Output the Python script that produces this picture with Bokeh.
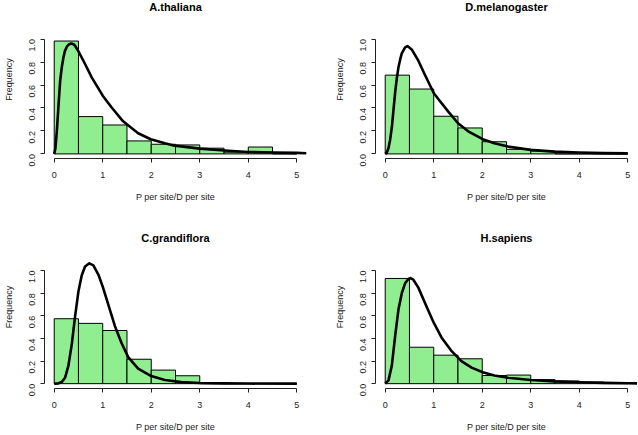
import math
from bokeh.plotting import figure
from bokeh.layouts import row, column
from bokeh.models import FixedTicker, PrintfTickFormatter, Range1d, Label
from bokeh.embed import file_html
from bokeh.resources import INLINE

# ---------------- data ----------------
bin_edges = [0.0, 0.5, 1.0, 1.5, 2.0, 2.5, 3.0, 3.5, 4.0, 4.5, 5.0]
x_ticks = [0, 1, 2, 3, 4, 5]
y_ticks = [0.0, 0.2, 0.4, 0.6, 0.8, 1.0]
x_label = "P per site/D per site"
y_label = "Frequency"

title_athaliana = "A.thaliana"
freq_athaliana = [0.983, 0.325, 0.252, 0.113, 0.084, 0.078, 0.050, 0.015, 0.060, 0.0]
curve_x_athaliana = [0.0, 0.025, 0.055, 0.09, 0.123, 0.155, 0.19, 0.22, 0.26, 0.30, 0.35,
                     0.40, 0.43, 0.50, 0.636, 0.773, 1.0, 1.18, 1.42, 1.73, 1.99, 2.28,
                     2.48, 3.0, 3.51, 4.0, 4.53, 5.0, 5.2]
curve_y_athaliana = [0.0, 0.05, 0.203, 0.43, 0.638, 0.75, 0.84, 0.895, 0.933, 0.953, 0.962,
                     0.955, 0.942, 0.893, 0.783, 0.667, 0.507, 0.406, 0.284, 0.18, 0.128, 0.093,
                     0.072, 0.046, 0.029, 0.017, 0.012, 0.009, 0.006]

title_dmelanogaster = "D.melanogaster"
freq_dmelanogaster = [0.686, 0.565, 0.328, 0.226, 0.106, 0.040, 0.025, 0.0, 0.0, 0.0]
curve_x_dmelanogaster = [0.0, 0.03, 0.068, 0.10, 0.137, 0.17, 0.205, 0.24, 0.273, 0.31, 0.342,
                         0.41, 0.458, 0.546, 0.683, 0.82, 1.0, 1.09, 1.30, 1.50, 1.71, 2.01,
                         2.25, 2.53, 3.0, 3.48, 4.0, 4.5, 5.0]
curve_y_dmelanogaster = [0.0, 0.008, 0.052, 0.12, 0.232, 0.38, 0.536, 0.66, 0.754, 0.825, 0.875,
                         0.928, 0.939, 0.91, 0.812, 0.687, 0.53, 0.48, 0.368, 0.267, 0.197, 0.128,
                         0.093, 0.064, 0.035, 0.02, 0.012, 0.007, 0.005]

title_cgrandiflora = "C.grandiflora"
freq_cgrandiflora = [0.574, 0.533, 0.470, 0.216, 0.120, 0.070, 0.0, 0.0, 0.0, 0.0]
curve_x_cgrandiflora = [0.0, 0.089, 0.157, 0.226, 0.294, 0.363, 0.431, 0.499, 0.568, 0.636,
                        0.725, 0.807, 0.91, 1.0, 1.115, 1.25, 1.39, 1.525, 1.73, 2.0, 2.28,
                        2.62, 3.0, 3.5, 4.0, 5.0]
curve_y_cgrandiflora = [0.0, 0.003, 0.014, 0.055, 0.162, 0.351, 0.597, 0.814, 0.959, 1.035,
                        1.064, 1.046, 0.965, 0.858, 0.699, 0.51, 0.357, 0.235, 0.133, 0.067, 0.032,
                        0.014, 0.006, 0.003, 0.001, 0.0]

title_hsapiens = "H.sapiens"
freq_hsapiens = [0.930, 0.322, 0.252, 0.220, 0.072, 0.076, 0.036, 0.024, 0.014, 0.008]
curve_x_hsapiens = [0.0, 0.068, 0.137, 0.205, 0.273, 0.342, 0.41, 0.478, 0.52, 0.58, 0.683,
                    0.82, 1.0, 1.16, 1.37, 1.57, 1.78, 2.01, 2.25, 2.53, 3.0, 3.48, 4.0,
                    4.5, 5.0, 5.2]
curve_y_hsapiens = [0.0, 0.029, 0.162, 0.423, 0.655, 0.8, 0.887, 0.925, 0.933, 0.919, 0.849,
                    0.713, 0.539, 0.409, 0.287, 0.2, 0.142, 0.101, 0.072, 0.052, 0.032, 0.02,
                    0.012, 0.007, 0.004, 0.003]

FONT = "Liberation Sans"
X_START, X_END = -0.2, 5.2


def make_panel(title, freqs, cx, cy, width, height, mb_left, mb_right, mb_bottom,
               y_top, plot_px, pad_px, title_offset):
    # plotting region [y_lo, y_top] occupies plot_px pixels; the frame is
    # extended upward by pad_px (empty space that holds the panel title)
    y_lo = -0.04 * y_top / 1.04
    y_hi = y_top + pad_px * (y_top - y_lo) / plot_px
    p = figure(width=width, height=height,
               x_range=Range1d(X_START, X_END), y_range=Range1d(y_lo, y_hi),
               output_backend="svg", toolbar_location=None,
               min_border_left=mb_left, min_border_right=mb_right,
               min_border_top=0, min_border_bottom=mb_bottom)
    p.xgrid.visible = False
    p.ygrid.visible = False
    p.outline_line_color = None
    p.background_fill_color = "white"
    p.border_fill_color = "white"

    p.quad(left=bin_edges[:-1], right=bin_edges[1:], bottom=0, top=freqs,
           fill_color="#90EE90", line_color="black", line_width=1)
    p.line(cx, cy, line_color="black", line_width=2.6, line_join="round")

    # panel title, centred over the plotting region
    p.add_layout(Label(x=(X_START + X_END) / 2, y=y_top, y_offset=title_offset, text=title,
                       text_align="center", text_baseline="middle", text_font=FONT,
                       text_font_style="bold", text_font_size="11px", text_color="black"))

    p.xaxis.ticker = FixedTicker(ticks=x_ticks)
    p.xaxis.formatter = PrintfTickFormatter(format="%d")
    p.yaxis.ticker = FixedTicker(ticks=y_ticks)
    p.yaxis.formatter = PrintfTickFormatter(format="%.1f")
    p.xaxis.bounds = (0, 5)
    p.yaxis.bounds = (0, 1)
    p.xaxis.axis_label = x_label
    p.yaxis.axis_label = y_label
    for ax in (p.xaxis[0], p.yaxis[0]):
        ax.axis_line_color = "#222222"
        ax.major_tick_line_color = "#222222"
        ax.minor_tick_line_color = None
        ax.major_tick_in = 0
        ax.major_tick_out = 4
        ax.major_label_text_font = FONT
        ax.major_label_text_font_size = "9px"
        ax.major_label_text_color = "#222222"
        ax.axis_label_text_font = FONT
        ax.axis_label_text_font_size = "9px"
        ax.axis_label_text_font_style = "normal"
        ax.axis_label_text_color = "#222222"
    p.xaxis.major_label_standoff = 9
    p.xaxis.axis_label_standoff = 11
    p.yaxis.major_label_standoff = 8
    p.yaxis.axis_label_standoff = 10
    p.yaxis.major_label_orientation = math.pi / 2
    return p


p1 = make_panel(title_athaliana, freq_athaliana, curve_x_athaliana, curve_y_athaliana,
                331, 225, 43, 25, 67, 1.04, 124, 34, 28)
p2 = make_panel(title_dmelanogaster, freq_dmelanogaster, curve_x_dmelanogaster, curve_y_dmelanogaster,
                306, 225, 43, 0, 67, 1.04, 124, 34, 28)
p3 = make_panel(title_cgrandiflora, freq_cgrandiflora, curve_x_cgrandiflora, curve_y_cgrandiflora,
                331, 209, 43, 25, 44, 1.11, 132, 33, 20)
p4 = make_panel(title_hsapiens, freq_hsapiens, curve_x_hsapiens, curve_y_hsapiens,
                306, 209, 43, 0, 44, 1.11, 132, 33, 20)

layout = column(row(p1, p2), row(p3, p4))
open("out.html", "w").write(file_html(layout, INLINE))
